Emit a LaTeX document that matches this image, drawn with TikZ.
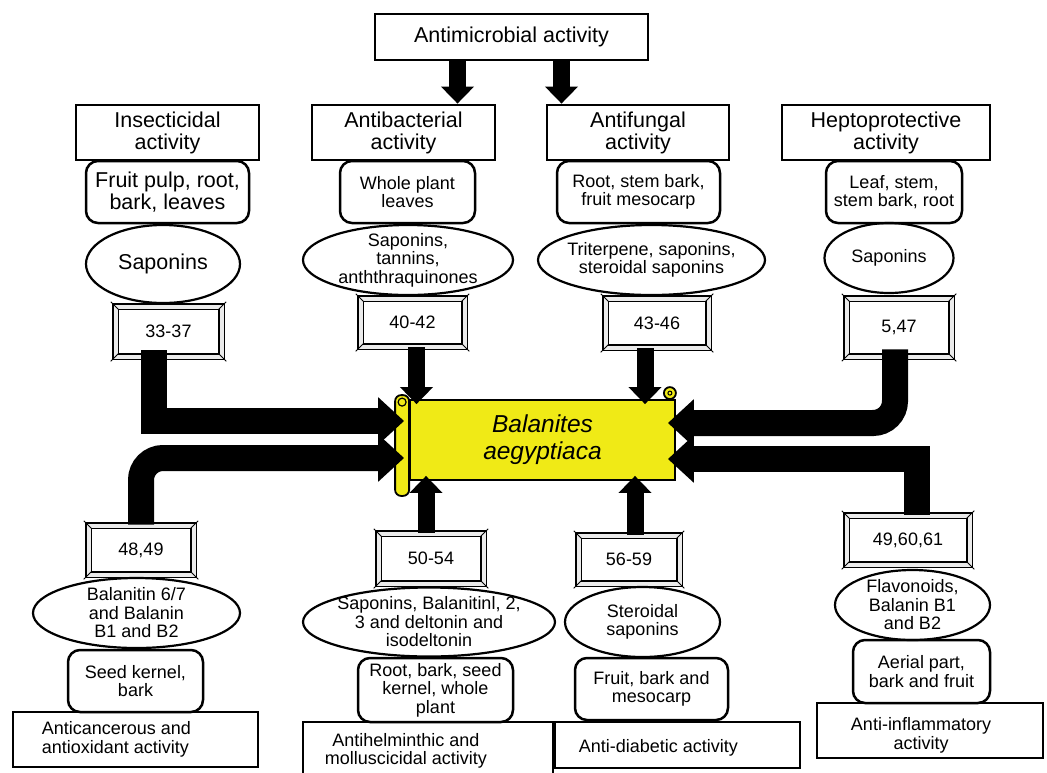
\documentclass[tikz,border=0pt]{standalone}
\usepackage{fontspec}
\setmainfont{Liberation Sans}
\usepackage{tikz}
\usetikzlibrary{shapes.geometric, arrows.meta}
\definecolor{scrollyellow}{RGB}{240,234,22}
\newcommand{\bigtxt}{\fontsize{21.5}{22}\selectfont}
\newcommand{\smltxt}{\fontsize{18}{18.5}\selectfont}
\newcommand{\scrolltxt}{\fontsize{24.5}{27}\selectfont\itshape}

\begin{document}
\begin{tikzpicture}[x=1pt, y=-1pt,
  titlebox/.style={draw, line width=2.8pt, align=center, inner sep=2pt, font=\bigtxt},
  srcbox/.style={draw, line width=2.5pt, rounded corners=12pt, align=center, inner sep=2pt, font=\smltxt},
  cmpd/.style={draw, ellipse, line width=2.2pt, align=center, inner sep=-6pt, font=\smltxt},
  refbox/.style={draw, line width=1.9pt, double=black!8, double distance=4pt, inner sep=0pt, font=\smltxt},
  bigarrow/.style={line width=26pt, -{Triangle[width=46pt,length=26pt]}},
  midarrow/.style={line width=17pt, -{Triangle[width=32pt,length=17pt]}}
]
  \useasboundingbox (0,0) rectangle (1047,772);

  % Top row
  \node[titlebox, minimum width=273pt, minimum height=46pt] (am) at (511.5,37) {Antimicrobial activity};
  \node[titlebox, minimum width=183pt, minimum height=55pt] (ins) at (167.5,132.5) {Insecticidal\\activity};
  \node[titlebox, minimum width=183pt, minimum height=55pt] (abt) at (403.5,132.5) {Antibacterial\\activity};
  \node[titlebox, minimum width=182pt, minimum height=55pt] (afu) at (638,132.5) {Antifungal\\activity};
  \node[titlebox, minimum width=208pt, minimum height=55pt] (hep) at (886,132.5) {Heptoprotective\\activity};

  % Plant parts (top)
  \node[srcbox, minimum width=163pt, minimum height=62pt, font=\bigtxt] (s1) at (167.5,192) {Fruit pulp, root,\\bark, leaves};
  \node[srcbox, minimum width=135pt, minimum height=62pt] (s2) at (407.5,192) {Whole plant\\leaves};
  \node[srcbox, minimum width=163pt, minimum height=62pt] (s3) at (638.5,192) {Root, stem bark,\\fruit mesocarp};
  \node[srcbox, minimum width=136pt, minimum height=62pt] (s4) at (894,192) {Leaf, stem,\\stem bark, root};

  % Compounds (top)
  \node[cmpd, minimum width=154pt, minimum height=78pt, font=\bigtxt] (c1) at (163,264) {Saponins};
  \node[cmpd, minimum width=210pt, minimum height=70pt] (c2) at (408,260) {Saponins,\\tannins,\\anththraquinones};
  \node[cmpd, minimum width=227pt, minimum height=70pt] (c3) at (651.5,260) {Triterpene, saponins,\\steroidal saponins};
  \node[cmpd, minimum width=129pt, minimum height=70pt] (c4) at (889,258) {Saponins};

  % References (top)
  \node[refbox, minimum width=106pt, minimum height=50pt] (r1) at (168.5,331.5) {33-37};
  \node[refbox, minimum width=104pt, minimum height=48pt] (r2) at (412.5,322.5) {40-42};
  \node[refbox, minimum width=103pt, minimum height=49pt] (r3) at (657,323) {43-46};
  \node[refbox, minimum width=105pt, minimum height=58pt] (r4) at (899,327.5) {5,47};

  % References (bottom)
  \node[refbox, minimum width=105pt, minimum height=49pt] (r5) at (141,550) {48,49};
  \node[refbox, minimum width=105pt, minimum height=50pt] (r6) at (431,558.5) {50-54};
  \node[refbox, minimum width=101pt, minimum height=48pt] (r7) at (629,559.5) {56-59};
  \node[refbox, minimum width=123pt, minimum height=49pt] (r8) at (908,540) {49,60,61};

  % Frame bevels
  \foreach \n in {r1,r2,r3,r4,r5,r6,r7,r8} {
    \draw[line width=1pt] (\n.north west) ++(-3.8,-3.8) -- ++(7.6,7.6);
    \draw[line width=1pt] (\n.north east) ++(3.8,-3.8) -- ++(-7.6,7.6);
    \draw[line width=1pt] (\n.south west) ++(-3.8,3.8) -- ++(7.6,-7.6);
    \draw[line width=1pt] (\n.south east) ++(3.8,3.8) -- ++(-7.6,-7.6);
  }

  % Compounds (bottom)
  \node[cmpd, minimum width=207pt, minimum height=70pt] (c5) at (136.5,613) {Balanitin 6/7\\and Balanin\\B1 and B2};
  \node[cmpd, minimum width=252pt, minimum height=69pt] (c6) at (429,622) {Saponins, Balanitinl, 2,\\3 and deltonin and\\isodeltonin};
  \node[cmpd, minimum width=155pt, minimum height=70pt] (c7) at (642.5,622) {Steroidal\\saponins};
  \node[cmpd, minimum width=155pt, minimum height=70pt] (c8) at (912.5,605) {Flavonoids,\\Balanin B1\\and B2};

  % Plant parts (bottom)
  \node[srcbox, minimum width=135pt, minimum height=62pt] (s5) at (135.5,681) {Seed kernel,\\bark};
  \node[srcbox, minimum width=155pt, minimum height=64pt] (s6) at (435.5,690) {Root, bark, seed\\kernel, whole\\plant};
  \node[srcbox, minimum width=153pt, minimum height=62pt] (s7) at (651.5,689) {Fruit, bark and\\mesocarp};
  \node[srcbox, minimum width=137pt, minimum height=63pt] (s8) at (921.5,671.5) {Aerial part,\\bark and fruit};

  % Bottom row
  \node[titlebox, minimum width=245pt, minimum height=55pt] (t5) at (135.5,739.5) {};
  \node[font=\smltxt, align=left, anchor=west, inner sep=0pt] (t5txt) at ([xshift=30pt]t5.west) {Anticancerous and\\antioxidant activity};
  \node[titlebox, minimum width=250pt, minimum height=54pt] (t6) at (428,749) {};
  \node[font=\smltxt, align=center, inner sep=0pt] (t6txt) at ([xshift=-22pt,yshift=-2pt]t6.center) {Antihelminthic and\\molluscicidal activity};
  \node[titlebox, minimum width=245pt, minimum height=46pt] (t7) at (677.5,745) {};
  \node[font=\smltxt, anchor=west, inner sep=0pt] (t7txt) at ([xshift=25pt,yshift=-3pt]t7.west) {Anti-diabetic activity};
  \node[titlebox, minimum width=226pt, minimum height=55pt] (t8) at (930,730.5) {};
  \node[font=\smltxt, align=center, inner sep=0pt] (t8txt) at ([xshift=-9pt,yshift=-5pt]t8.center) {Anti-inflammatory\\activity};

  % Scroll
  \node[draw, line width=1.8pt, fill=scrollyellow, minimum width=265pt, minimum height=80pt, align=center, font=\scrolltxt] (ba) at (542.5,440) {Balanites\\aegyptiaca};
  \draw[line width=1.8pt, fill=scrollyellow, rounded corners=6pt] ([xshift=-14pt,yshift=4pt]ba.north west) rectangle ([yshift=-15pt]ba.south west);
  \draw[line width=1.2pt] ([xshift=-7pt,yshift=-3pt]ba.north west) circle (4pt);
  \draw[line width=1.8pt, fill=scrollyellow] ([xshift=-6pt,yshift=6pt]ba.north east) circle (6pt);
  \draw[line width=1pt] ([xshift=-6pt,yshift=6pt]ba.north east) circle (2pt);

  % Arrows
  \draw[midarrow] ([xshift=-54pt]am.south) -- ([xshift=-54pt]am.south |- abt.north);
  \draw[midarrow] ([xshift=50pt]am.south) -- ([xshift=50pt]am.south |- afu.north);
  \draw[midarrow, shorten >=-5pt] ([xshift=4pt]r2.south) -- ([xshift=4pt]r2.south |- ba.north);
  \draw[midarrow, shorten >=-5pt] ([xshift=-12pt]r3.south) -- ([xshift=-12pt]r3.south |- ba.north);
  \draw[midarrow, shorten >=-5pt] ([xshift=-5pt]r6.north) -- ([xshift=-5pt]r6.north |- ba.south);
  \draw[midarrow, shorten >=-5pt] ([xshift=6pt]r7.north) -- ([xshift=6pt]r7.north |- ba.south);
  \draw[bigarrow] ([xshift=-15pt,yshift=7pt]r1.south) |- ([xshift=-5pt,yshift=19pt]ba.west);
  \draw[bigarrow, rounded corners=22pt] (r5.north) |- ([xshift=-5pt,yshift=-18pt]ba.west);
  \draw[bigarrow, rounded corners=22pt] ([xshift=-4pt,yshift=8pt]r4.south) |- ([xshift=-8pt,yshift=17pt]ba.east);
  \draw[bigarrow] ([xshift=9pt]r8.north) |- ([xshift=-8pt,yshift=-19pt]ba.east);
\end{tikzpicture}
\end{document}
